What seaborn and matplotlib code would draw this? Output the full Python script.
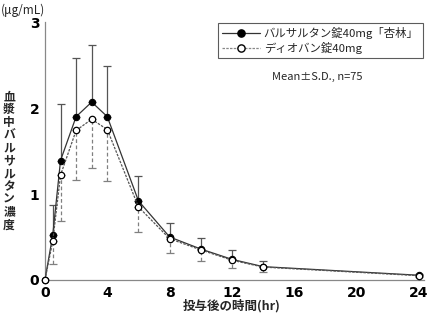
import matplotlib
matplotlib.use("Agg")
import matplotlib.pyplot as plt
import seaborn as sns
import pandas as pd
from matplotlib.lines import Line2D

sns.set_theme(style="white")
plt.rcParams['font.family'] = ['Noto Sans CJK JP', 'DejaVu Sans']

time_hr = [0, 0.5, 1, 2, 3, 4, 6, 8, 10, 12, 14, 24]
kyorin_mean = [0, 0.52, 1.39, 1.90, 2.07, 1.90, 0.92, 0.50, 0.36, 0.24, 0.155, 0.055]
kyorin_sd = [0, 0.35, 0.66, 0.68, 0.66, 0.59, 0.29, 0.16, 0.13, 0.11, 0.065, 0.02]
diovan_mean = [0, 0.45, 1.22, 1.74, 1.87, 1.75, 0.85, 0.48, 0.35, 0.23, 0.15, 0.05]
diovan_sd = [0, 0.26, 0.53, 0.58, 0.57, 0.60, 0.29, 0.17, 0.13, 0.09, 0.06, 0.015]

label_kyorin = "バルサルタン錠40mg「杏林」"
label_diovan = "ディオバン錠40mg"
x_ticks = [0, 4, 8, 12, 16, 20, 24]
y_ticks = [0, 1, 2, 3]

df_k = pd.DataFrame({"t": time_hr, "c": kyorin_mean})
df_d = pd.DataFrame({"t": time_hr, "c": diovan_mean})

fig = plt.figure(figsize=(4.28, 3.16), dpi=100)
ax = fig.add_axes([0.105, 0.114, 0.885, 0.816])

MS = 4.6

# error bars (one-sided)
ax.errorbar(time_hr, kyorin_mean, yerr=[[0] * len(time_hr), kyorin_sd], fmt="none",
            ecolor="#555555", elinewidth=0.9, capsize=3, capthick=0.9, zorder=2)
eb = ax.errorbar(time_hr, diovan_mean, yerr=[diovan_sd, [0] * len(time_hr)], fmt="none",
                 ecolor="#808080", elinewidth=0.9, capsize=3, capthick=0.9, zorder=2)
for lc in eb[2]:
    lc.set_linestyle((0, (3, 2)))

sns.lineplot(data=df_k, x="t", y="c", ax=ax, color="#333333", linewidth=0.9,
             marker="o", markersize=MS, markerfacecolor="black",
             markeredgecolor="black", zorder=3, clip_on=False)
sns.lineplot(data=df_d, x="t", y="c", ax=ax, color="#555555", linewidth=0.9,
             linestyle=(0, (2, 1)), marker="o", markersize=MS,
             markerfacecolor="white", markeredgecolor="black", markeredgewidth=0.9,
             zorder=4, clip_on=False)

ax.set_xlim(0, 24.3)
ax.set_ylim(0, 3)
ax.set_xticks(x_ticks)
ax.set_yticks(y_ticks)
ax.set_xlabel("")
ax.set_ylabel("")
for s in ["top", "right"]:
    ax.spines[s].set_visible(False)
for s in ["left", "bottom"]:
    ax.spines[s].set_color("#888888")
    ax.spines[s].set_linewidth(0.9)
ax.tick_params(axis="both", direction="in", length=4, width=0.9, color="#888888",
               labelsize=10, labelcolor="black", pad=4)
for lab in ax.get_xticklabels() + ax.get_yticklabels():
    lab.set_fontweight("bold")
    lab.set_family(["DejaVu Sans"])

fig.text(1 / 428, 1 - 10 / 316, "(μg/mL)", ha="left", va="center", fontsize=8.5)
fig.text(9 / 428, 1 - 161 / 316, "\n".join("血漿中バルサルタン濃度"), ha="center",
         va="center", fontsize=8.5, fontweight="bold", linespacing=0.98)
fig.text(232 / 428, 1 - 306 / 316, "投与後の時間(hr)", ha="center", va="center",
         fontsize=9, fontweight="bold")

handles = [
    Line2D([0], [0], color="#333333", lw=0.9, marker="o", ms=MS + 0.6, mfc="black", mec="black"),
    Line2D([0], [0], color="#888888", lw=0.9, ls=(0, (2, 1)), marker="o", ms=MS + 0.6,
           mfc="white", mec="black"),
]
leg = ax.legend(handles, [label_kyorin, label_diovan], loc="upper right",
                bbox_to_anchor=(0.997, 0.995), fontsize=8.2, frameon=True, fancybox=False,
                handlelength=3.4, borderpad=0.35, labelspacing=0.2, handletextpad=0.3,
                borderaxespad=0)
leg.get_frame().set_edgecolor("#333333")
leg.get_frame().set_linewidth(0.8)
fig.text(317 / 428, 1 - 77 / 316, "Mean±S.D., n=75", ha="center", va="center",
         fontsize=8)

fig.savefig("out.png", dpi=100)
